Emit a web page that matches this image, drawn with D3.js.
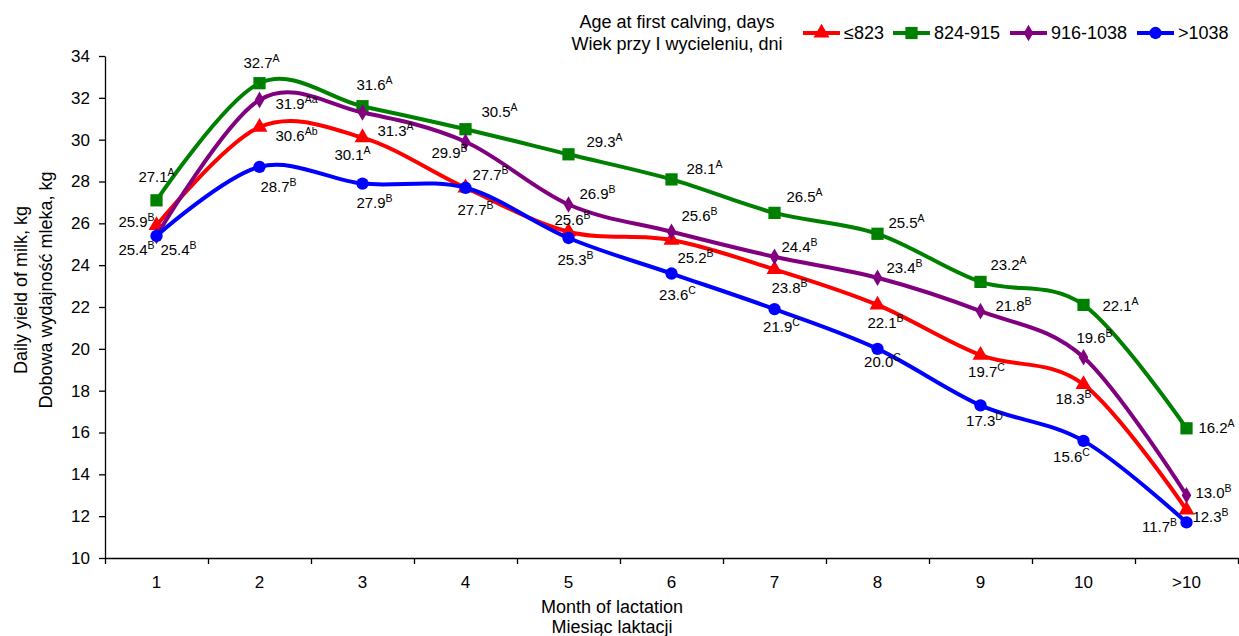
<!DOCTYPE html>
<html>
<head>
<meta charset="utf-8">
<script src="https://cdn.jsdelivr.net/npm/d3@7"></script>
<style>
  body { margin: 0; background: #fff; }
  svg { font-family: "Liberation Sans", Arial, sans-serif; display: block; }
  .axis path, .axis line { stroke: #000; stroke-width: 1.3; }
  .axis text { font-size: 17px; fill: #000; }
</style>
</head>
<body>
<div id="chart"></div>
<script>
'use strict';

// months of lactation
const months = ["1", "2", "3", "4", "5", "6", "7", "8", "9", "10", ">10"];

// age at first calving groups
const groups = ["≤823", "824-915", "916-1038", ">1038"];

// daily milk yield, kg
const yieldLe823 = [25.9, 30.6, 30.1, 27.7, 25.6, 25.2, 23.8, 22.1, 19.7, 18.3, 12.3];
const yield824to915 = [27.1, 32.7, 31.6, 30.5, 29.3, 28.1, 26.5, 25.5, 23.2, 22.1, 16.2];
const yield916to1038 = [25.4, 31.9, 31.3, 29.9, 26.9, 25.6, 24.4, 23.4, 21.8, 19.6, 13.0];
const yieldGt1038 = [25.4, 28.7, 27.9, 27.7, 25.3, 23.6, 21.9, 20.0, 17.3, 15.6, 11.7];

// significance letters
const lettersLe823 = ["B", "Ab", "A", "B", "B", "B", "B", "B", "C", "B", "B"];
const letters824to915 = ["A", "A", "A", "A", "A", "A", "A", "A", "A", "A", "A"];
const letters916to1038 = ["B", "Aa", "A", "B", "B", "B", "B", "B", "B", "B", "B"];
const lettersGt1038 = ["B", "B", "B", "B", "B", "C", "C", "C", "D", "C", "B"];

const yTicks = d3.range(10, 35, 2);

// label placement (offset of label centre from marker), layout only
const labelShift = [
    [[-20, -3], [37, 9], [-10, 17], [25, -13], [4, -12], [24, 18], [15, 19], [8, 18], [6, 17], [-10, 15], [24, 7]],
    [[0, -23], [2, -20], [12, -21], [34, -17], [36, -12], [33, -10], [30, -16], [29, -11], [28, -17], [37, 1], [30, 0]],
    [[-20, 14], [37, 4], [33, 19], [-16, 11], [29, -11], [28, -16], [25, -10], [27, -10], [33, -5], [11, -19], [27, -2]],
    [[22, 14], [19, 20], [12, 19], [10, 22], [7, 22], [6, 21], [7, 18], [5, 13], [4, 16], [-12, 16], [-27, 5]]
];

const series = [
    { name: groups[0], values: yieldLe823, letters: lettersLe823, color: "#ff0000", marker: d3.symbolTriangle, msize: 110 },
    { name: groups[1], values: yield824to915, letters: letters824to915, color: "#008000", marker: d3.symbolSquare, msize: 150 },
    { name: groups[2], values: yield916to1038, letters: letters916to1038, color: "#800080", marker: d3.symbolDiamond, msize: 80 },
    { name: groups[3], values: yieldGt1038, letters: lettersGt1038, color: "#0000ff", marker: d3.symbolCircle, msize: 120 }
];

const width = 1239, height = 636;
const margin = { top: 56, right: 1, bottom: 78, left: 105 };

const svg = d3.select("#chart").append("svg")
    .attr("width", width)
    .attr("height", height);

const xEdge = d3.scaleLinear()
    .domain([0, months.length])
    .range([margin.left, width - margin.right]);

const x = i => xEdge(i + 0.5);

const y = d3.scaleLinear()
    .domain([10, 34])
    .range([height - margin.bottom, margin.top]);

// y axis
svg.append("g")
    .attr("class", "axis")
    .attr("transform", `translate(${margin.left},0)`)
    .call(d3.axisLeft(y).tickValues(yTicks).tickSize(6).tickPadding(9).tickSizeOuter(0));

// x axis (ticks between categories)
const xAxis = svg.append("g")
    .attr("class", "axis")
    .attr("transform", `translate(0,${y(10)})`)
    .call(d3.axisBottom(xEdge).tickValues(d3.range(months.length + 1)).tickSize(6).tickSizeOuter(0).tickFormat(""));

xAxis.selectAll(".month")
    .data(months)
    .enter().append("text")
    .attr("class", "month")
    .attr("x", (d, i) => x(i))
    .attr("y", 30)
    .attr("text-anchor", "middle")
    .style("font-size", "17px")
    .attr("fill", "#000")
    .text(d => d);

// axis titles
const xTitle = svg.append("text")
    .attr("text-anchor", "middle")
    .style("font-size", "18px");
xTitle.append("tspan").attr("x", 612).attr("y", 613).text("Month of lactation");
xTitle.append("tspan").attr("x", 612).attr("y", 633).text("Miesiąc laktacji");

const yTitle = svg.append("text")
    .attr("text-anchor", "middle")
    .attr("transform", "translate(0,290) rotate(-90)")
    .style("font-size", "18px");
yTitle.append("tspan").attr("x", 0).attr("y", 27).text("Daily yield of milk, kg");
yTitle.append("tspan").attr("x", 0).attr("y", 52).text("Dobowa wydajność mleka, kg");

// lines
const line = d3.line()
    .x((d, i) => x(i))
    .y(d => y(d))
    .curve(d3.curveCatmullRom.alpha(0));

const plot = svg.append("g");

series.forEach(s => {
    let g = plot.append("g");

    g.append("path")
        .datum(s.values)
        .attr("fill", "none")
        .attr("stroke", s.color)
        .attr("stroke-width", 4)
        .attr("d", line);

    g.selectAll(".mark")
        .data(s.values)
        .enter().append("path")
        .attr("class", "mark")
        .attr("transform", (d, i) => `translate(${x(i)},${y(d)})${s.marker === d3.symbolDiamond ? " scale(1,1)" : ""}`)
        .attr("d", d3.symbol().type(s.marker).size(s.msize))
        .attr("fill", s.color);
});

// data labels
series.forEach((s, si) => {
    let lab = plot.append("g").selectAll("text")
        .data(s.values)
        .enter().append("text")
        .attr("text-anchor", "middle")
        .attr("x", (d, i) => x(i) + labelShift[si][i][0])
        .attr("y", (d, i) => y(d) + labelShift[si][i][1] + 5)
        .style("font-size", "15px")
        .attr("fill", "#000");

    lab.append("tspan").text(d => d.toFixed(1));
    lab.append("tspan")
        .attr("dy", -6)
        .style("font-size", "10.5px")
        .text((d, i) => s.letters[i]);
});

// legend
const legend = svg.append("g").style("font-size", "18px");

const lt = legend.append("text").attr("text-anchor", "middle");
lt.append("tspan").attr("x", 677).attr("y", 28).text("Age at first calving, days");
lt.append("tspan").attr("x", 677).attr("y", 50).text("Wiek przy I wycieleniu, dni");

const legendX = [803, 893, 1010, 1137];

series.forEach((s, i) => {
    let g = legend.append("g").attr("transform", `translate(${legendX[i]},33)`);
    g.append("line")
        .attr("x1", 0).attr("x2", 37)
        .attr("stroke", s.color)
        .attr("stroke-width", 4);
    g.append("path")
        .attr("transform", "translate(18.5,0)")
        .attr("d", d3.symbol().type(s.marker).size(s.msize))
        .attr("fill", s.color);
    g.append("text")
        .attr("x", 41)
        .attr("y", 6)
        .text(s.name);
});
</script>
</body>
</html>
